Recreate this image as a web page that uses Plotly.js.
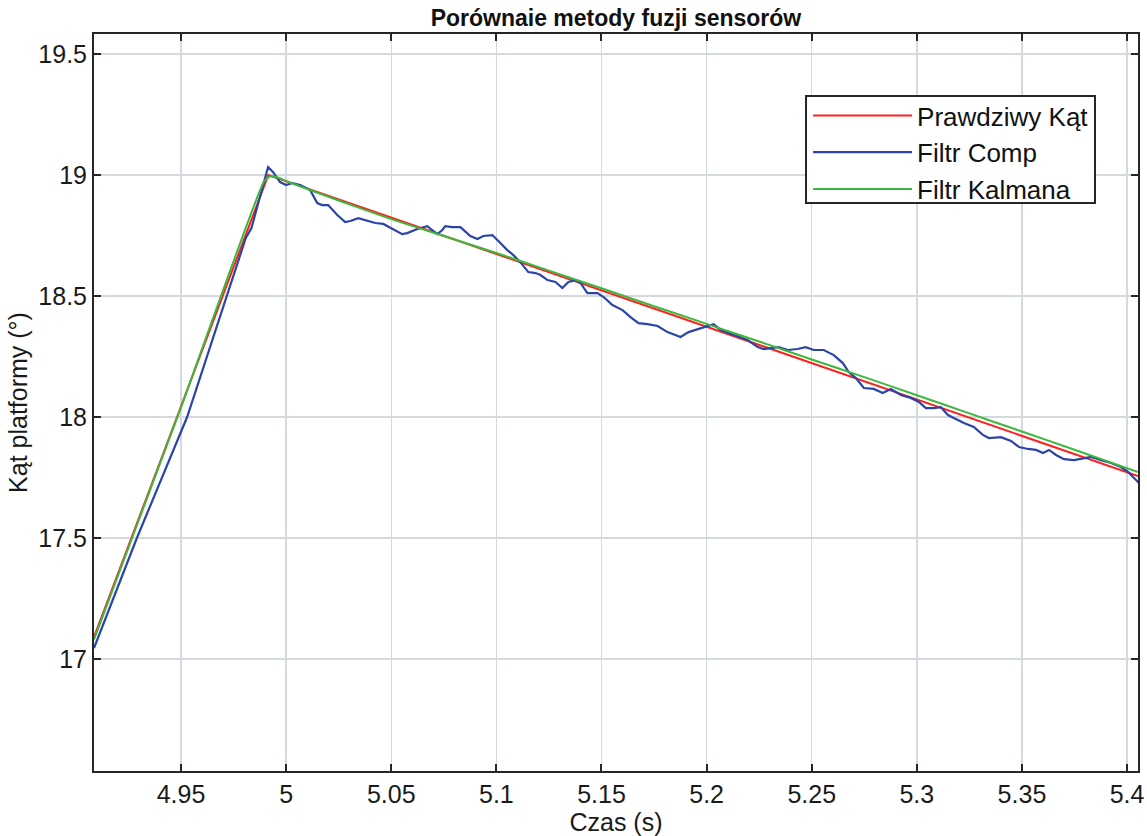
<!DOCTYPE html>
<html>
<head>
<meta charset="utf-8">
<script src="https://cdn.plot.ly/plotly-3.0.1.min.js"></script>
<style>html,body{margin:0;padding:0;background:#fff;}#chart{width:1147px;height:836px;}</style>
</head>
<body>
<div id="chart"></div>
<script>
// Prawdziwy Kąt (true angle)
const trueT = [4.9086, 4.9915, 5.4052];
const trueY = [17.09, 19.0, 17.756];

// Filtr Kalmana
const kalT = [4.9086, 4.950, 4.9895, 4.9925, 4.996, 5.0, 5.025, 5.05, 5.075, 5.1, 5.125, 5.15, 5.175, 5.2, 5.225, 5.25, 5.275, 5.3, 5.325, 5.35, 5.375, 5.4052];
const kalY = [17.08, 18.04, 18.975, 18.995, 18.99, 18.975, 18.895, 18.818, 18.748, 18.678, 18.605, 18.532, 18.458, 18.385, 18.312, 18.238, 18.165, 18.09, 18.015, 17.94, 17.865, 17.773];

// Filtr Comp
const compT = [4.9086, 4.9290, 4.9529, 4.9716, 4.9808, 4.9835, 4.9890, 4.9914, 4.9938, 4.9971, 5.0000, 5.0029, 5.0067, 5.0114, 5.0148, 5.0171, 5.0200, 5.0243, 5.0281, 5.0305, 5.0343, 5.0376, 5.0424, 5.0462, 5.0510, 5.0552, 5.0576, 5.0624, 5.0671, 5.0695, 5.0719, 5.0743, 5.0757, 5.0790, 5.0829, 5.0876, 5.0910, 5.0938, 5.0962, 5.0981, 5.1019, 5.1052, 5.1081, 5.1114, 5.1152, 5.1186, 5.1210, 5.1243, 5.1281, 5.1314, 5.1343, 5.1376, 5.1400, 5.1433, 5.1481, 5.1510, 5.1552, 5.1600, 5.1638, 5.1676, 5.1719, 5.1767, 5.1814, 5.1876, 5.1914, 5.1971, 5.2033, 5.2067, 5.2129, 5.2195, 5.2243, 5.2271, 5.2305, 5.2343, 5.2386, 5.2433, 5.2471, 5.2510, 5.2557, 5.2605, 5.2648, 5.2676, 5.2710, 5.2748, 5.2795, 5.2838, 5.2876, 5.2924, 5.2971, 5.3010, 5.3043, 5.3081, 5.3114, 5.3148, 5.3176, 5.3224, 5.3271, 5.3314, 5.3343, 5.3400, 5.3448, 5.3486, 5.3529, 5.3567, 5.3600, 5.3629, 5.3662, 5.3700, 5.3748, 5.3795, 5.3829, 5.3876, 5.3924, 5.3971, 5.4005, 5.4033, 5.4057];
const compY = [17.045, 17.500, 18.000, 18.500, 18.740, 18.781, 18.950, 19.033, 19.012, 18.971, 18.959, 18.967, 18.959, 18.938, 18.884, 18.876, 18.876, 18.835, 18.806, 18.810, 18.822, 18.814, 18.802, 18.798, 18.777, 18.756, 18.760, 18.777, 18.789, 18.773, 18.756, 18.773, 18.789, 18.785, 18.785, 18.748, 18.736, 18.748, 18.752, 18.752, 18.719, 18.690, 18.669, 18.640, 18.599, 18.595, 18.587, 18.566, 18.558, 18.533, 18.558, 18.566, 18.554, 18.512, 18.512, 18.496, 18.463, 18.442, 18.413, 18.388, 18.384, 18.376, 18.351, 18.331, 18.351, 18.368, 18.384, 18.360, 18.339, 18.318, 18.289, 18.281, 18.285, 18.289, 18.277, 18.281, 18.289, 18.277, 18.277, 18.256, 18.223, 18.186, 18.161, 18.120, 18.116, 18.099, 18.116, 18.091, 18.079, 18.062, 18.037, 18.037, 18.041, 18.008, 17.996, 17.975, 17.959, 17.926, 17.913, 17.917, 17.901, 17.876, 17.868, 17.864, 17.851, 17.864, 17.843, 17.826, 17.822, 17.831, 17.835, 17.822, 17.810, 17.793, 17.773, 17.748, 17.727];

const xTickVals = [4.95, 5, 5.05, 5.1, 5.15, 5.2, 5.25, 5.3, 5.35, 5.4];
const xTickText = ['4.95', '5', '5.05', '5.1', '5.15', '5.2', '5.25', '5.3', '5.35', '5.4'];
const yTickVals = [17, 17.5, 18, 18.5, 19, 19.5];
const yTickText = ['17', '17.5', '18', '18.5', '19', '19.5'];

const FONT = 'Liberation Sans, Arial, sans-serif';

const traces = [
  {x: trueT, y: trueY, name: 'Prawdziwy Kąt', mode: 'lines', line: {color: '#ff1f1f', width: 2}},
  {x: compT, y: compY, name: 'Filtr Comp', mode: 'lines', line: {color: '#2a44a8', width: 2.2}},
  {x: kalT, y: kalY, name: 'Filtr Kalmana', mode: 'lines', line: {color: '#3db83d', width: 2, shape: 'spline', smoothing: 0.4}}
];

const axisCommon = {
  showgrid: true, gridcolor: '#d3d9de', gridwidth: 1.5,
  showline: true, linecolor: '#262626', linewidth: 2,
  ticks: 'inside', ticklen: 7, tickwidth: 2, tickcolor: '#262626',
  mirror: 'ticks', zeroline: false,
  tickfont: {family: FONT, size: 25, color: '#1a1a1a'}
};

const layout = {
  width: 1147, height: 836,
  paper_bgcolor: '#ffffff', plot_bgcolor: '#ffffff',
  margin: {l: 94, r: 9, t: 34, b: 65},
  title: {text: '<b>Porównaie metody fuzji sensorów</b>', font: {family: FONT, size: 23, color: '#111'}, x: 0.537, xanchor: 'center', y: 0.978, yanchor: 'middle'},
  xaxis: Object.assign({}, axisCommon, {
    range: [4.9086, 5.4052], tickvals: xTickVals, ticktext: xTickText,
    title: {text: 'Czas (s)', font: {family: FONT, size: 25, color: '#1a1a1a'}, standoff: 2}
  }),
  yaxis: Object.assign({}, axisCommon, {
    range: [16.537, 19.583], tickvals: yTickVals, ticktext: yTickText,
    title: {text: 'Kąt platformy (°)', font: {family: FONT, size: 25, color: '#1a1a1a'}, standoff: 4}
  }),
  shapes: [{
    type: 'rect', xref: 'paper', yref: 'paper', layer: 'above',
    x0: 0.682, x1: 0.9588, y0: 0.7707, y1: 0.9159,
    line: {color: '#262626', width: 2}, fillcolor: '#ffffff'
  }],
  legend: {
    x: 0.684, y: 0.9213, xanchor: 'left', yanchor: 'top',
    bgcolor: 'rgba(0,0,0,0)', borderwidth: 0,
    font: {family: FONT, size: 26, color: '#111'},
    itemwidth: 99, tracegroupgap: 0
  },
  showlegend: true
};

Plotly.newPlot('chart', traces, layout, {displayModeBar: false, staticPlot: true});
</script>
</body>
</html>
